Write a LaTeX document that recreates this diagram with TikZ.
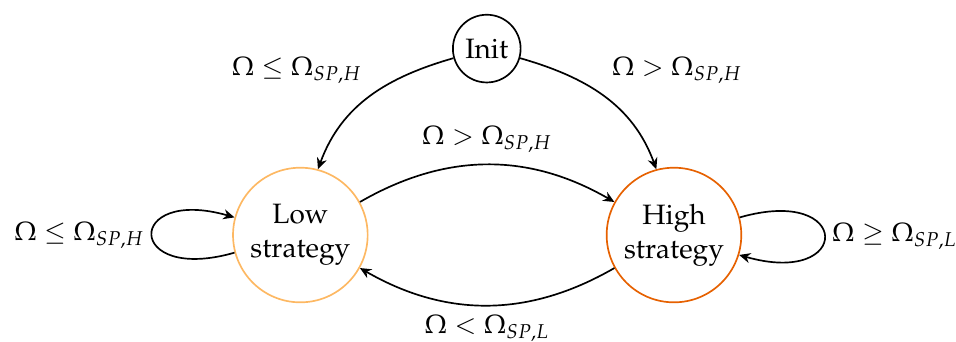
\documentclass[tikz,border=0pt]{standalone}
\usepackage{amsmath,amssymb}
\usepackage[T1]{fontenc}
\usepackage{mathpazo}
\usetikzlibrary{arrows.meta,positioning}
\definecolor{lowstrat}{HTML}{FDB863}
\definecolor{highstrat}{HTML}{E66101}

\begin{document}
\begin{tikzpicture}[
  every node/.style={font=\normalsize},
  state/.style={circle, draw, semithick, align=center, inner sep=0pt},
  cond/.style={font=\fontsize{9.4}{11}\selectfont, inner sep=2.5pt},
  trans/.style={-{Stealth[length=4pt, width=3.6pt, inset=1.3pt]}, semithick}
]
  % Frame
  \useasboundingbox (0,0) rectangle (12.0,4.29);

  % States
  \node[state, minimum size=0.85cm] (init) at (6.11,3.68) {Init};
  \node[state, draw=lowstrat, minimum size=1.69cm] (low) at (3.77,1.34) {Low\\strategy};
  \node[state, draw=highstrat, minimum size=1.69cm] (high) at (8.46,1.34) {High\\strategy};

  % Leaving the initial state
  \draw[trans] (init.196) to[out=196, in=70] node[cond, midway, above left, yshift=2pt] {$\Omega \leq \Omega_{SP,H}$} (low.75);
  \draw[trans] (init.344) to[out=-16, in=110] node[cond, midway, above right, yshift=2pt] {$\Omega > \Omega_{SP,H}$} (high.105);

  % Switching between strategies
  \draw[trans] (low.29) to[bend left=30] node[cond, above, inner sep=4pt] {$\Omega > \Omega_{SP,H}$} (high.151);
  \draw[trans] (high.209) to[bend left=30] node[cond, below, inner sep=3pt] {$\Omega < \Omega_{SP,L}$} (low.331);

  % Staying in the same strategy
  \draw[trans] (low.195) to[out=196, in=164, looseness=8.3] node[cond, left] {$\Omega \leq \Omega_{SP,H}$} (low.165);
  \draw[trans] (high.15) to[out=16, in=-16, looseness=8] node[cond, right] {$\Omega \geq \Omega_{SP,L}$} (high.-17);
\end{tikzpicture}
\end{document}
